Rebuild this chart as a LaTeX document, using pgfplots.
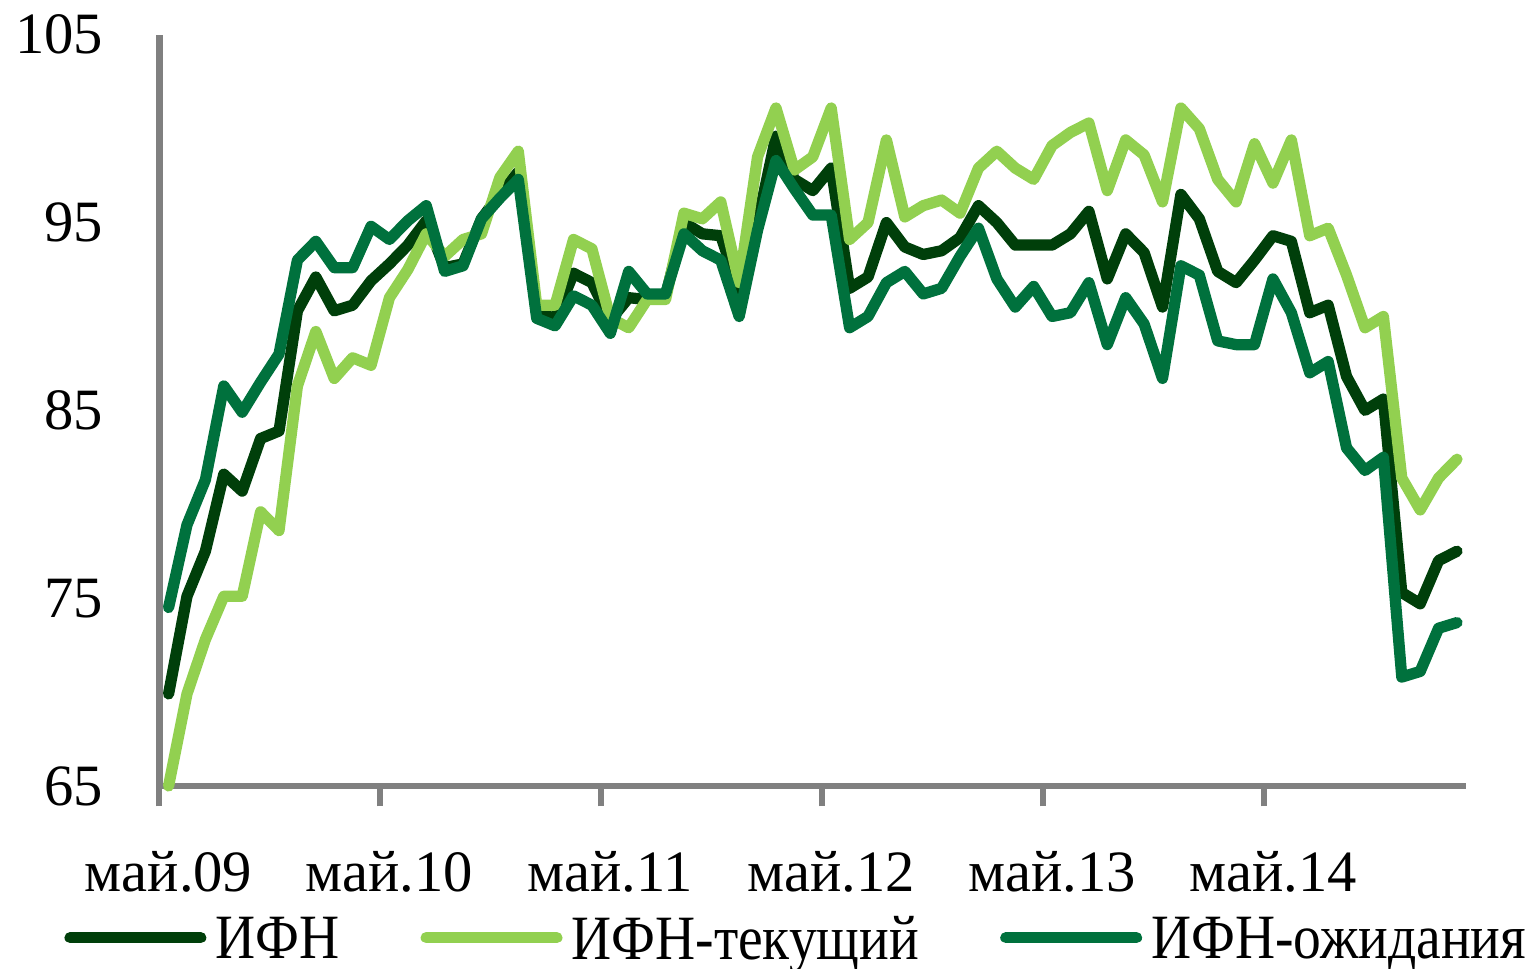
\documentclass[border=0pt]{standalone}
\usepackage{fontspec}
\setmainfont{Liberation Serif}
\newfontfamily\legfont{Liberation Serif}[FakeStretch=0.88]
\usepackage{pgfplots}
\usepackage{pgfplotstable}
\pgfplotsset{compat=1.18}

\definecolor{ifn}{HTML}{003F0A}
\definecolor{ifncur}{HTML}{92D050}
\definecolor{ifnexp}{HTML}{00713D}
\definecolor{axgray}{HTML}{808080}

% month index 0 = May 2009
\pgfplotstableread{
i  ifn   cur   exp
0  69.9  65.0  74.5
1  75.1  69.9  78.9
2  77.5  72.8  81.3
3  81.6  75.1  86.3
4  80.7  75.1  84.9
5  83.5  79.6  86.5
6  83.9  78.6  88.0
7  90.3  86.3  93.0
8  92.1  89.2  94.0
9  90.3  86.7  92.6
10 90.6  87.8  92.6
11 91.9  87.4  94.8
12 92.8  91.0  94.1
13 93.8  92.5  95.1
14 95.1  94.4  95.9
15 92.6  93.2  92.4
16 92.8  94.1  92.7
17 95.2  94.4  95.2
18 96.5  97.4  96.3
19 97.7  98.8  97.3
20 90.2  90.6  89.9
21 89.9  90.6  89.5
22 92.3  94.1  91.1
23 91.8  93.6  90.6
24 89.8  89.9  89.1
25 91.0  89.4  92.4
26 90.9  90.9  91.2
27 91.1  90.9  91.2
28 95.0  95.5  94.4
29 94.4  95.2  93.5
30 94.3  96.1  93.0
31 91.4  91.8  90.0
32 95.0  98.5  94.6
33 99.6  101.1 98.3
34 97.3  97.8  96.8
35 96.7  98.5  95.4
36 97.9  101.1 95.4
37 91.5  94.1  89.4
38 92.1  95.0  90.0
39 95.0  99.4  91.8
40 93.7  95.3  92.4
41 93.3  95.9  91.2
42 93.5  96.2  91.5
43 94.2  95.5  93.2
44 95.9  97.9  94.7
45 95.0  98.8  92.0
46 93.8  97.9  90.5
47 93.8  97.3  91.6
48 93.8  99.1  90.0
49 94.4  99.8  90.2
50 95.6  100.3 91.8
51 92.0  96.7  88.5
52 94.4  99.4  91.0
53 93.4  98.6  89.6
54 90.5  96.1  86.7
55 96.5  101.1 92.7
56 95.2  100.0 92.2
57 92.4  97.3  88.7
58 91.8  96.1  88.5
59 93.0  99.2  88.5
60 94.3  97.1  92.0
61 94.0  99.4  90.2
62 90.2  94.3  87.0
63 90.6  94.7  87.6
64 86.8  92.2  83.0
65 85.0  89.4  81.8
66 85.6  90.0  82.5
67 75.3  81.4  70.8
68 74.7  79.7  71.1
69 77.0  81.4  73.4
70 77.5  82.4  73.7
}\data

\begin{document}
\begin{tikzpicture}
\begin{axis}[
  scale only axis,
  width=290pt, height=166.7pt,
  xmin=-0.5, xmax=70.5,
  ymin=65, ymax=105,
  clip=false,
  axis x line*=bottom,
  axis y line*=left,
  axis line style={axgray, line width=1.4pt, -},
  xtick={0,12,24,36,48,60},
  xticklabels={май.09,май.10,май.11,май.12,май.13,май.14},
  minor xtick={-0.5,11.5,23.5,35.5,47.5,59.5},
  ytick={65,75,...,105},
  major tick length=0pt,
  minor tick length=4.5pt,
  tick align=outside,
  tick style={axgray, line width=1.3pt},
  /pgf/number format/assume math mode=true,
  ticklabel style={font=\fontsize{13}{15}\selectfont},
  xticklabel style={yshift=-11pt},
  yticklabel style={xshift=-9pt},
  legend columns=3,
  legend style={
    at={(0.49,-0.16)}, anchor=north,
    draw=none, fill=none,
    font=\legfont\fontsize{14}{16}\selectfont,
    inner sep=0pt,
    nodes={text depth=0pt},
    /tikz/every even column/.append style={column sep=16pt},
  },
  legend image code/.code={\draw[#1] (0pt,0pt) -- (29pt,0pt);},
  every axis plot/.append style={line width=2.5pt, line join=round, line cap=round},
]
\addplot[ifn] table[x=i, y=ifn] {\data};
\addlegendentry{ИФН}
\addplot[ifncur] table[x=i, y=cur] {\data};
\addlegendentry{ИФН-текущий}
\addplot[ifnexp] table[x=i, y=exp] {\data};
\addlegendentry{ИФН-ожидания}
\end{axis}
\end{tikzpicture}
\end{document}
